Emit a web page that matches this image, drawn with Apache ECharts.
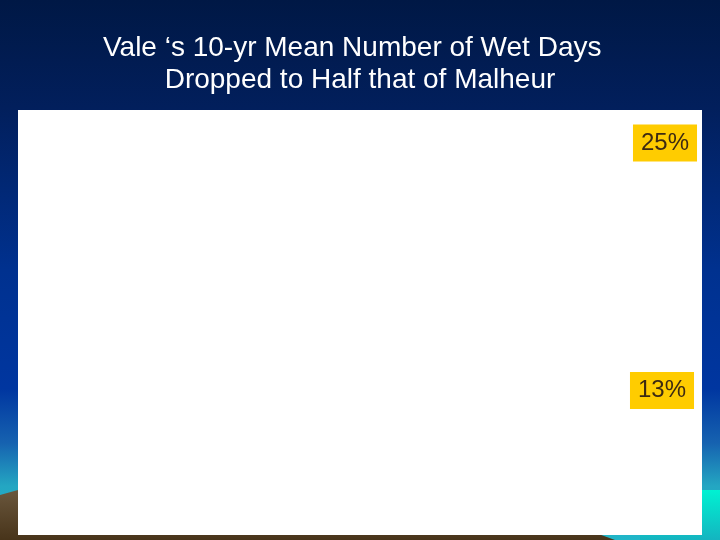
<!DOCTYPE html>
<html>
<head>
<meta charset="utf-8">
<script src="https://cdn.jsdelivr.net/npm/echarts@6/dist/echarts.min.js"></script>
<style>
  html, body { margin: 0; padding: 0; }
  #main { width: 720px; height: 540px; }
</style>
</head>
<body>
<div id="main"></div>
<script>
// data
var periods = ['10-yr mean'];
var malheurWet = [25];   // % of days wet
var valeWet = [13];

var chart = echarts.init(document.getElementById('main'));

function pctLabel(dx) {
    return {
        show: true,
        position: 'inside',
        offset: [dx, 0],
        formatter: function (p) { return p.value + '%'; },
        backgroundColor: '#ffcc00',
        color: '#3d2a12',
        fontFamily: 'Liberation Sans, Arial, sans-serif',
        fontSize: 24,
        lineHeight: 24,
        padding: [7, 8, 6, 8]
    };
}

chart.setOption({
    animation: false,
    title: {
        // trailing spaces keep the first line a little left, like the slide
        text: 'Vale \u2018s 10-yr Mean Number of Wet Days  \nDropped to Half that of Malheur',
        left: 'center',
        top: 27,
        textStyle: {
            color: '#ffffff',
            fontFamily: 'Liberation Sans, Arial, sans-serif',
            fontWeight: 'normal',
            fontSize: 28,
            lineHeight: 32
        }
    },
    graphic: [
        {   // sky gradient
            type: 'rect', z: 0, silent: true,
            shape: { x: 0, y: 0, width: 720, height: 540 },
            style: {
                fill: new echarts.graphic.LinearGradient(0, 0, 0, 1, [
                    { offset: 0, color: '#001845' },
                    { offset: 0.2, color: '#021f5c' },
                    { offset: 0.5, color: '#00318f' },
                    { offset: 0.72, color: '#0036a0' },
                    { offset: 0.82, color: '#1662b0' },
                    { offset: 0.9, color: '#24a6c2' },
                    { offset: 1, color: '#20b6c8' }
                ])
            }
        },
        {   // cyan glow bottom right
            type: 'rect', z: 1, silent: true,
            shape: { x: 640, y: 490, width: 80, height: 50 },
            style: {
                fill: new echarts.graphic.LinearGradient(0, 0, 0, 1, [
                    { offset: 0, color: '#00f2d2' },
                    { offset: 1, color: '#14b4c0' }
                ])
            }
        },
        {   // ground
            type: 'polygon', z: 1, silent: true,
            shape: { points: [[0, 495], [18, 490], [300, 482], [560, 520], [615, 540], [0, 540]] },
            style: {
                fill: new echarts.graphic.LinearGradient(0, 0, 0, 1, [
                    { offset: 0, color: '#6f5c42' },
                    { offset: 1, color: '#48341a' }
                ])
            }
        },
        {   // white panel
            type: 'rect', z: 1, silent: true,
            shape: { x: 18, y: 110, width: 684, height: 425 },
            style: { fill: '#ffffff' }
        }
    ],
    grid: { left: 625, right: 18, top: 110, bottom: 5 },
    xAxis: {
        type: 'category',
        data: periods,
        show: false
    },
    yAxis: {
        type: 'value',
        min: 6,
        max: 26.6,
        show: false
    },
    series: [
        {
            name: 'Malheur',
            type: 'scatter',
            data: malheurWet,
            symbolSize: 1,
            itemStyle: { color: 'rgba(0,0,0,0)', opacity: 1 },
            label: pctLabel(1.5)
        },
        {
            name: 'Vale',
            type: 'scatter',
            data: valeWet,
            symbolSize: 1,
            itemStyle: { color: 'rgba(0,0,0,0)', opacity: 1 },
            label: pctLabel(-1.5)
        }
    ]
});
</script>
</body>
</html>
